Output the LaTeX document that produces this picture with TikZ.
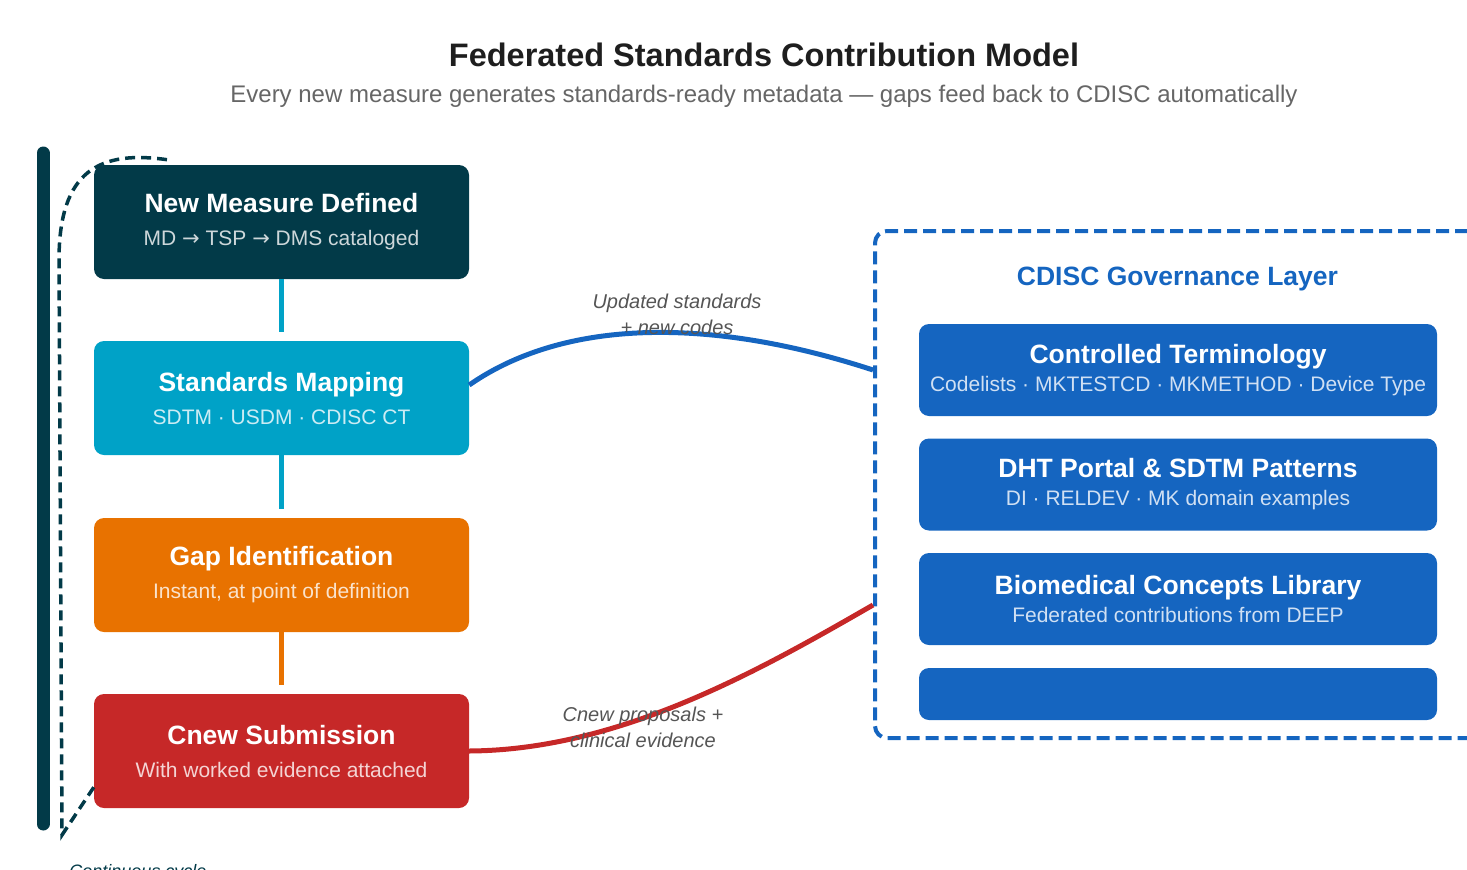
\documentclass[tikz,border=0pt]{standalone}
\usepackage{fontspec}
\setmainfont{Liberation Sans}
\newfontfamily\arrowfont{DejaVu Sans}
\usetikzlibrary{positioning,calc}

\definecolor{deepteal}{HTML}{023A48}
\definecolor{mapcyan}{HTML}{00A2C7}
\definecolor{gaporange}{HTML}{E87200}
\definecolor{subred}{HTML}{C62828}
\definecolor{cdiscblue}{HTML}{1565C0}
\definecolor{titleink}{HTML}{1E1E1E}
\definecolor{noteink}{HTML}{555555}

% title line and lighter second line inside the boxes
\newcommand{\boxtitle}[1]{{\fontsize{26.5}{30}\selectfont\bfseries #1}}
\newcommand{\boxsub}[1]{{\fontsize{21}{25}\selectfont\color{white!80!\stagecol}#1}}
\newcommand{\flowto}{{\arrowfont →}}

\tikzset{
    stage/.style={rectangle, rounded corners=10pt, fill=#1, text=white, align=center,
        minimum width=375pt, minimum height=114pt, inner sep=0pt,
        font=\fontsize{21}{33}\selectfont, /utils/exec={\def\stagecol{#1}}},
    govitem/.style={rectangle, rounded corners=10pt, fill=cdiscblue, text=white, align=center,
        minimum width=518pt, minimum height=92pt, inner sep=0pt,
        font=\fontsize{21}{28}\selectfont, /utils/exec={\def\stagecol{cdiscblue}}},
    stemline/.style={draw=#1, line width=4.5pt, shorten >=9pt},
    flowline/.style={draw=#1, line width=5pt},
    flownote/.style={text=noteink, align=center, font=\fontsize{20}{26}\selectfont\itshape}
}

\begin{document}
\begin{tikzpicture}[x=1pt, y=-1pt]
    \useasboundingbox (0,0) rectangle (1467,870);

    % heading
    \node[text=titleink, font=\fontsize{32.5}{36}\selectfont\bfseries] (title) at (764,55) {Federated Standards Contribution Model};
    \node[text=black!60, font=\fontsize{24}{28}\selectfont] (subtitle) at (764,96) {Every new measure generates standards-ready metadata — gaps feed back to CDISC automatically};

    % left-hand pipeline
    \node[stage=deepteal] (measure) at (281.5,222) {\boxtitle{New Measure Defined}\\\boxsub{MD \flowto{} TSP \flowto{} DMS cataloged}};
    \node[stage=mapcyan] (mapping) at (281.5,398) {\boxtitle{Standards Mapping}\\\boxsub{SDTM · USDM · CDISC CT}};
    \node[stage=gaporange] (gap) at (281.5,575) {\boxtitle{Gap Identification}\\\boxsub{Instant, at point of definition}};
    \node[stage=subred] (submission) at (281.5,751) {\boxtitle{Cnew Submission}\\\boxsub{With worked evidence attached}};

    \draw[stemline=mapcyan] (measure) -- (mapping);
    \draw[stemline=mapcyan] (mapping) -- (gap);
    \draw[stemline=gaporange] (gap) -- (submission);

    % cycle bar and dashed return path
    \draw[deepteal, line width=13pt, line cap=round] (43,153) -- (43,824);
    \coordinate (loopstart) at ($(submission.south west)+(0,-21)$);
    \coordinate (loopend) at ($(measure.north west)+(74,-5)$);
    \draw[deepteal, line width=3.5pt, dash pattern=on 10pt off 6pt]
        (loopstart) -- (62,835) -- (59,260) .. controls (59,170) and (100,150) .. (loopend);
    \node[text=deepteal, font=\fontsize{18}{22}\selectfont\itshape, anchor=base] (cyclenote) at (138,877) {Continuous cycle};

    % governance layer
    \node[draw=cdiscblue, line width=4pt, dash pattern=on 13pt off 6pt, rounded corners=12pt,
        minimum width=605pt, minimum height=507pt, inner sep=0pt] (gov) at (1177.5,484.5) {};
    \node[text=cdiscblue, font=\fontsize{26.5}{30}\selectfont\bfseries] (govlabel) at ($(gov.north)+(0,50)$) {CDISC Governance Layer};

    \node[govitem] (terminology) at (1178,370) {\boxtitle{Controlled Terminology}\\\boxsub{Codelists · MKTESTCD · MKMETHOD · Device Type}};
    \node[govitem] (portal) at (1178,484.5) {\boxtitle{DHT Portal \& SDTM Patterns}\\\boxsub{DI · RELDEV · MK domain examples}};
    \node[govitem] (concepts) at (1178,599) {\boxtitle{Biomedical Concepts Library}\\\boxsub{Federated contributions from DEEP}};
    \node[govitem, minimum height=52pt] (spare) at (1178,694) {};

    % flows between the pipeline and CDISC
    \draw[flowline=cdiscblue] ($(mapping.east)+(0,-13)$) .. controls (570,315) and (720,320) .. (gov.west |- terminology);
    \draw[flowline=subred] (submission.east) .. controls (620,750) and (760,670) .. ($(gov.west |- concepts)+(0,6)$);

    \node[flownote] (upnote) at (677,314) {Updated standards\\+ new codes};
    \node[flownote] (downnote) at (643,727) {Cnew proposals +\\clinical evidence};
\end{tikzpicture}
\end{document}
